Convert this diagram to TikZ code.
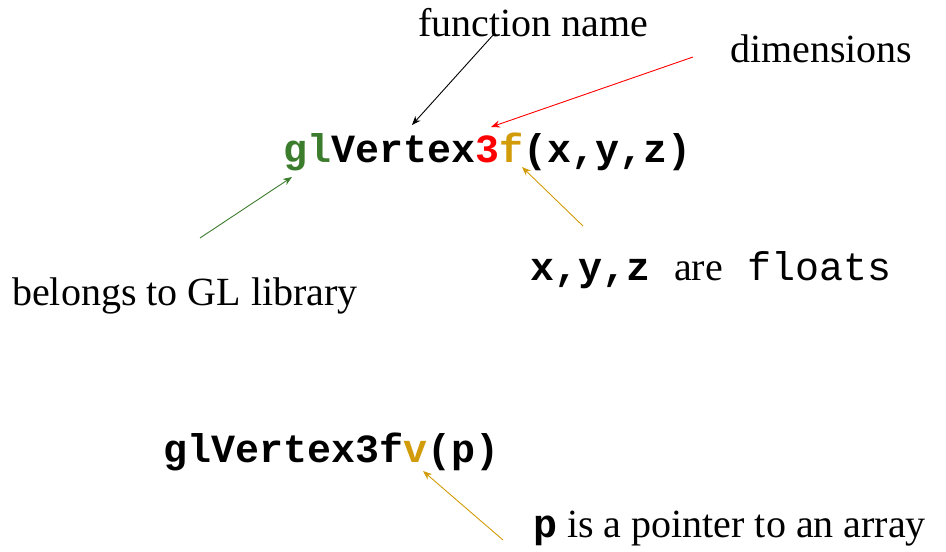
\documentclass[tikz,border=0pt]{standalone}
\usepackage{fontspec}
\setmainfont{Liberation Serif}
\setmonofont{Liberation Mono}
\usetikzlibrary{arrows.meta}
\definecolor{glgreen}{RGB}{60,125,45}
\definecolor{gold}{RGB}{210,155,10}
\definecolor{dimred}{RGB}{255,0,0}
\tikzset{
  lbl/.style={anchor=base west,inner sep=0pt,font=\fontsize{40}{48}\selectfont},
  code/.style={anchor=base west,inner sep=0pt,font=\fontsize{40}{48}\selectfont\ttfamily\bfseries},
  arr/.style={-{Stealth[length=9pt,width=7pt]},line width=0.9pt},
}
\begin{document}
\begin{tikzpicture}[x=1pt,y=-1pt]
\useasboundingbox (0,0) rectangle (946,552);
% texts
\node[lbl] (fn) at (418,36) {function name};
\node[lbl] (dim) at (730,62) {dimensions};
\node[code] (c1) at (283,162) {\textcolor{glgreen}{gl}Vertex\textcolor{dimred}{3}\textcolor{gold}{f}(x,y,z)};
\node[lbl] (gl) at (12,305) {belongs to GL library};
\node[lbl] (fl) at (530,280) {\ttfamily\bfseries x,y,z\mdseries\ \rmfamily are\ttfamily\ floats};
\node[code] (c2) at (163,462) {glVertex3f\textcolor{gold}{v}(p)};
\node[lbl] (pa) at (533,537) {\ttfamily\bfseries p\rmfamily\mdseries{} is a pointer to an array};
% arrow ends
\coordinate (fnS) at (494,34);
\coordinate (fnE) at (412,125);
\coordinate (dimS) at (693,57);
\coordinate (dimE) at (491,127);
\coordinate (glS) at (200,238);
\coordinate (glE) at (292,177);
\coordinate (flS) at (583,226);
\coordinate (flE) at (522,167);
\coordinate (paS) at (503,540);
\coordinate (paE) at (423,471);
\draw[arr,black] (fnS) -- (fnE);
\draw[arr,dimred] (dimS) -- (dimE);
\draw[arr,glgreen] (glS) -- (glE);
\draw[arr,gold] (flS) -- (flE);
\draw[arr,gold] (paS) -- (paE);
\end{tikzpicture}
\end{document}
